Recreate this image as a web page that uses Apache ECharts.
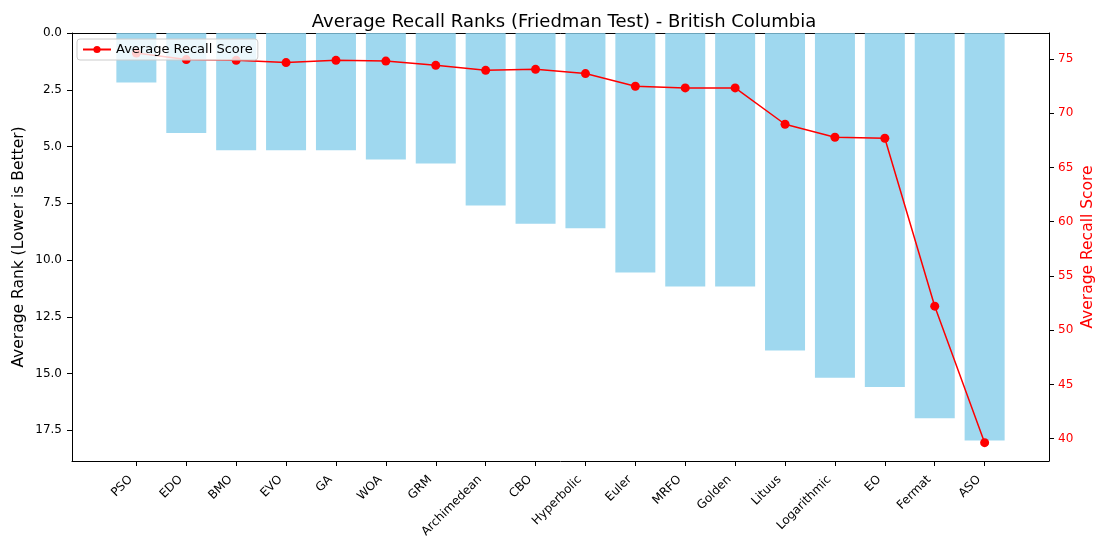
<!DOCTYPE html>
<html>
<head>
<meta charset="utf-8">
<script src="https://cdn.jsdelivr.net/npm/echarts@6/dist/echarts.min.js"></script>
<style>
  html, body { margin: 0; padding: 0; background: #fff; }
  #chart { width: 1097px; height: 538px; }
</style>
</head>
<body>
<div id="chart"></div>
<script>
// algorithms, ordered by average rank
const algorithms = ['PSO', 'EDO', 'BMO', 'EVO', 'GA', 'WOA', 'GRM', 'Archimedean', 'CBO',
  'Hyperbolic', 'Euler', 'MRFO', 'Golden', 'Lituus', 'Logarithmic', 'EO', 'Fermat', 'ASO'];

// average Friedman rank (lower is better)
const avgRanks = [2.18, 4.40, 5.16, 5.16, 5.16, 5.57, 5.75, 7.60, 8.40,
  8.60, 10.55, 11.16, 11.16, 13.98, 15.18, 15.59, 16.97, 17.95];

// average recall score
const avgRecall = [75.55, 74.94, 74.87, 74.66, 74.87, 74.80, 74.41, 73.95, 74.04,
  73.65, 72.48, 72.33, 72.33, 68.98, 67.78, 67.69, 52.21, 39.63];

const rankTicks = [0, 2.5, 5, 7.5, 10, 12.5, 15, 17.5];
const recallTicks = [40, 45, 50, 55, 60, 65, 70, 75];

const font = 'DejaVu Sans';
const chart = echarts.init(document.getElementById('chart'));

const idx = algorithms.map((_, i) => i);

chart.setOption({
  animation: false,
  textStyle: { fontFamily: font },
  title: {
    text: 'Average Recall Ranks (Friedman Test) - British Columbia',
    left: 559, top: 8, textAlign: 'center',
    textStyle: { fontFamily: font, fontSize: 18, fontWeight: 'normal', color: '#000' }
  },
  legend: {
    data: ['Average Recall Score'],
    left: 77, top: 39,
    orient: 'vertical',
    itemWidth: 28, itemHeight: 9, itemGap: 6,
    padding: [4, 5, 4, 5],
    backgroundColor: 'rgba(255,255,255,0.8)',
    borderColor: '#cccccc', borderWidth: 1, borderRadius: 3,
    textStyle: { fontFamily: font, fontSize: 13, color: '#000' },
    z: 10
  },
  grid: { left: 72, right: 48, top: 33, bottom: 77, containLabel: false, outerBoundsMode: 'none' },
  xAxis: [{
    type: 'value',
    min: -1.29, max: 18.29,
    splitLine: { show: false },
    axisLine: { show: true, onZero: false, lineStyle: { color: '#000', width: 1 } },
    axisTick: { show: true, customValues: idx, length: 5, lineStyle: { color: '#000' } },
    axisLabel: {
      customValues: idx, rotate: 45, margin: 11,
      padding: [0, 8, 0, 0],
      fontFamily: font, fontSize: 12, color: '#000',
      formatter: v => algorithms[Math.round(v)]
    }
  }, {
    type: 'value', position: 'top',
    min: -1.29, max: 18.29,
    splitLine: { show: false },
    axisLine: { show: true, onZero: false, lineStyle: { color: '#000', width: 1 } },
    axisTick: { show: false }, axisLabel: { show: false }
  }],
  yAxis: [{
    type: 'value', inverse: true,
    min: 0, max: 18.85,
    name: 'Average Rank (Lower is Better)',
    nameLocation: 'middle', nameGap: 45, nameRotate: 90, nameMoveOverlap: false,
    nameTextStyle: { fontFamily: font, fontSize: 15.5, color: '#000' },
    splitLine: { show: false },
    axisLine: { show: true, onZero: false, lineStyle: { color: '#000', width: 1 } },
    axisTick: { show: true, customValues: rankTicks, length: 5, lineStyle: { color: '#000' } },
    axisLabel: {
      customValues: rankTicks, margin: 10,
      fontFamily: font, fontSize: 12, color: '#000',
      formatter: v => v.toFixed(1)
    }
  }, {
    type: 'value', position: 'right',
    min: 37.94, max: 77.39,
    name: 'Average Recall Score',
    nameLocation: 'middle', nameGap: 31, nameRotate: 90, nameMoveOverlap: false,
    nameTextStyle: { fontFamily: font, fontSize: 15.5, color: '#ff0000' },
    splitLine: { show: false },
    axisLine: { show: true, onZero: false, lineStyle: { color: '#000', width: 1 } },
    axisTick: { show: true, customValues: recallTicks, length: 5, lineStyle: { color: '#000' } },
    axisLabel: {
      customValues: recallTicks, margin: 9,
      fontFamily: font, fontSize: 12, color: '#ff0000'
    }
  }],
  series: [{
    name: 'Average Rank',
    type: 'bar',
    xAxisIndex: 0, yAxisIndex: 0,
    barWidth: 40,
    itemStyle: { color: 'rgba(135,206,235,0.8)' },
    data: avgRanks.map((v, i) => [i, v]),
    z: 2
  }, {
    name: 'Average Recall Score',
    type: 'line',
    xAxisIndex: 0, yAxisIndex: 1,
    symbol: 'circle', symbolSize: 9,
    lineStyle: { color: '#ff0000', width: 1.5 },
    itemStyle: { color: '#ff0000' },
    data: avgRecall.map((v, i) => [i, v]),
    z: 5
  }]
});
</script>
</body>
</html>
